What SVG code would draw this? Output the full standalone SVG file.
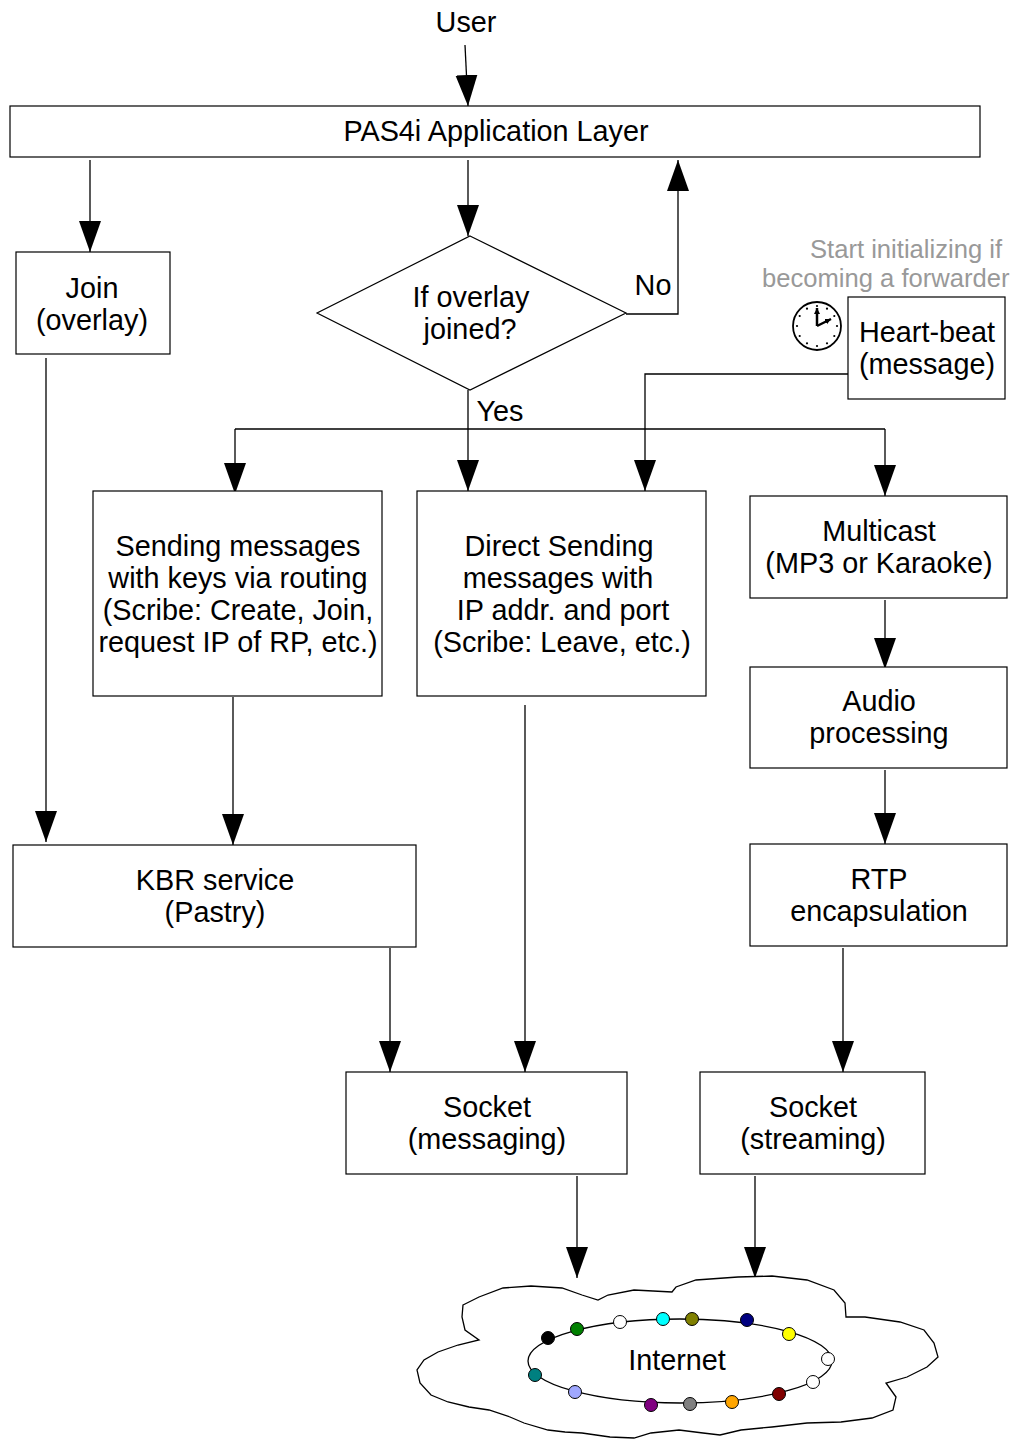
<svg xmlns="http://www.w3.org/2000/svg" width="1016" height="1443" viewBox="0 0 1016 1443">
  <style>
    .box { fill: #fff; stroke: #000; stroke-width: 1.2; }
    .t { font-family: "Liberation Sans", Arial, sans-serif; font-size: 28.8px; fill: #000; text-anchor: middle; }
    .note { font-family: "Liberation Sans", Arial, sans-serif; font-size: 25.6px; fill: #999; }
    .ln { fill: none; stroke: #000; stroke-width: 1.3; }
    .arr { fill: none; stroke: #000; stroke-width: 1.3; marker-end: url(#ah); }
  </style>
  <defs>
    <marker id="ah" markerUnits="userSpaceOnUse" markerWidth="32" markerHeight="24" refX="31" refY="11" orient="auto">
      <path d="M0,0 L31,11 L0,22 Z" fill="#000"/>
    </marker>
    <marker id="hh" markerUnits="userSpaceOnUse" markerWidth="8" markerHeight="8" refX="6" refY="3" orient="auto">
      <path d="M0,0 L6,3 L0,6 Z" fill="#000"/>
    </marker>
  </defs>
  <rect width="1016" height="1443" fill="#fff"/>

  <!-- connectors -->
  <g id="connectors">
    <path class="arr" d="M465,45 L468,106"/>
    <path class="arr" d="M90,160 L90,252"/>
    <path class="arr" d="M468,160 L468,236"/>
    <path class="arr" d="M626,314 L678,314 L678,160"/>
    <path class="arr" d="M46,358 L46,842"/>
    <path class="arr" d="M468,390 L468,491"/>
    <path class="ln" d="M235,429 L885,429"/>
    <path class="arr" d="M235,429 L235,494"/>
    <path class="arr" d="M885,429 L885,496"/>
    <path class="arr" d="M848,374 L645,374 L645,491"/>
    <path class="arr" d="M885,600 L885,669"/>
    <path class="arr" d="M885,770 L885,844"/>
    <path class="arr" d="M233,697 L233,845"/>
    <path class="arr" d="M390,948 L390,1072"/>
    <path class="arr" d="M525,705 L525,1072"/>
    <path class="arr" d="M843,948 L843,1072"/>
    <path class="arr" d="M577,1176 L577,1278"/>
    <path class="arr" d="M755,1176 L755,1278"/>
  </g>

  <!-- labels on connectors -->
  <text class="t" x="466" y="32">User</text>
  <text class="t" x="653" y="295">No</text>
  <text class="t" x="500" y="421">Yes</text>

  <g id="app-layer">
    <rect class="box" x="10" y="106" width="970" height="51"/>
    <text class="t" x="496" y="141">PAS4i Application Layer</text>
  </g>

  <g id="join">
    <rect class="box" x="16" y="252" width="154" height="102"/>
    <text class="t" x="92" y="298">Join</text>
    <text class="t" x="92" y="330">(overlay)</text>
  </g>

  <g id="decision">
    <polygon class="box" points="470,236 626,313 470,390 317,313"/>
    <text class="t" x="471" y="307">If overlay</text>
    <text class="t" x="470" y="339">joined?</text>
  </g>

  <g id="heartbeat">
    <text class="note" x="810" y="258">Start initializing if</text>
    <text class="note" x="762" y="287">becoming a forwarder</text>
    <g id="clock">
      <circle cx="817" cy="326" r="24" fill="#fff" stroke="#000" stroke-width="1.8"/>
      <g fill="#000">
        <circle cx="817" cy="306" r="1.1"/>
        <circle cx="827" cy="308.7" r="1.1"/>
        <circle cx="834.3" cy="316" r="1.1"/>
        <circle cx="837" cy="326" r="1.1"/>
        <circle cx="834.3" cy="336" r="1.1"/>
        <circle cx="827" cy="343.3" r="1.1"/>
        <circle cx="817" cy="346" r="1.1"/>
        <circle cx="807" cy="343.3" r="1.1"/>
        <circle cx="799.7" cy="336" r="1.1"/>
        <circle cx="797" cy="326" r="1.1"/>
        <circle cx="799.7" cy="316" r="1.1"/>
        <circle cx="807" cy="308.7" r="1.1"/>
      </g>
      <path d="M817,326 L817,308" stroke="#000" stroke-width="2.5" marker-end="url(#hh)"/>
      <path d="M817,326 L831,319" stroke="#000" stroke-width="2.5" marker-end="url(#hh)"/>
    </g>
    <rect class="box" x="848" y="297" width="157" height="102"/>
    <text class="t" x="927" y="342">Heart-beat</text>
    <text class="t" x="927" y="374">(message)</text>
  </g>

  <g id="routing">
    <rect class="box" x="93" y="491" width="289" height="205"/>
    <text class="t" x="238" y="556">Sending messages</text>
    <text class="t" x="238" y="588">with keys via routing</text>
    <text class="t" x="238" y="620">(Scribe: Create, Join,</text>
    <text class="t" x="238" y="652">request IP of RP, etc.)</text>
  </g>

  <g id="direct">
    <rect class="box" x="417" y="491" width="289" height="205"/>
    <text class="t" x="559" y="556">Direct Sending</text>
    <text class="t" x="558" y="588">messages with</text>
    <text class="t" x="563" y="620">IP addr. and port</text>
    <text class="t" x="562" y="652">(Scribe: Leave, etc.)</text>
  </g>

  <g id="multicast">
    <rect class="box" x="750" y="496" width="257" height="102"/>
    <text class="t" x="879" y="541">Multicast</text>
    <text class="t" x="879" y="573">(MP3 or Karaoke)</text>
  </g>

  <g id="audio">
    <rect class="box" x="750" y="667" width="257" height="101"/>
    <text class="t" x="879" y="711">Audio</text>
    <text class="t" x="879" y="743">processing</text>
  </g>

  <g id="rtp">
    <rect class="box" x="750" y="844" width="257" height="102"/>
    <text class="t" x="879" y="889">RTP</text>
    <text class="t" x="879" y="921">encapsulation</text>
  </g>

  <g id="kbr">
    <rect class="box" x="13" y="845" width="403" height="102"/>
    <text class="t" x="215" y="890">KBR service</text>
    <text class="t" x="215" y="922">(Pastry)</text>
  </g>

  <g id="socket-messaging">
    <rect class="box" x="346" y="1072" width="281" height="102"/>
    <text class="t" x="487" y="1117">Socket</text>
    <text class="t" x="487" y="1149">(messaging)</text>
  </g>

  <g id="socket-streaming">
    <rect class="box" x="700" y="1072" width="225" height="102"/>
    <text class="t" x="813" y="1117">Socket</text>
    <text class="t" x="813" y="1149">(streaming)</text>
  </g>

  <g id="internet">
    <path fill="#fff" stroke="#000" stroke-width="1.3" d="M463,1305 L479,1297 L503,1288 L531,1286 L562,1288 L582,1295 L598,1300 L608,1295 L634,1290 L672,1292 L676,1287 L696,1280 L738,1277 L772,1276 L807,1280 L834,1290 L845,1303 L846,1317 L865,1317 L900,1322 L924,1330 L934,1343 L938,1357 L927,1367 L907,1377 L886,1383 L896,1397 L893,1410 L872,1418 L841,1422 L807,1423 L772,1427 L741,1430 L720,1435 L703,1433 L679,1430 L651,1433 L634,1438 L610,1437 L582,1433 L565,1432 L548,1430 L524,1423 L510,1417 L489,1410 L469,1407 L448,1402 L431,1395 L420,1383 L417,1370 L424,1360 L438,1352 L458,1345 L479,1340 L465,1330 L462,1317 Z"/>
    <ellipse cx="680" cy="1361" rx="152" ry="42" fill="none" stroke="#000" stroke-width="1.3"/>
    <g stroke="#000" stroke-width="1">
      <circle cx="548" cy="1338" r="6.5" fill="#000"/>
      <circle cx="577" cy="1329" r="6.5" fill="#008000"/>
      <circle cx="620" cy="1322" r="6.5" fill="#fff"/>
      <circle cx="663" cy="1319" r="6.5" fill="#00ffff"/>
      <circle cx="692" cy="1319" r="6.5" fill="#808000"/>
      <circle cx="747" cy="1320" r="6.5" fill="#000080"/>
      <circle cx="789" cy="1334" r="6.5" fill="#ffff00"/>
      <circle cx="828" cy="1359" r="6.5" fill="#fff"/>
      <circle cx="813" cy="1382" r="6.5" fill="#fff"/>
      <circle cx="779" cy="1394" r="6.5" fill="#800000"/>
      <circle cx="732" cy="1402" r="6.5" fill="#ffa500"/>
      <circle cx="690" cy="1404" r="6.5" fill="#808080"/>
      <circle cx="651" cy="1405" r="6.5" fill="#800080"/>
      <circle cx="575" cy="1392" r="6.5" fill="#a0a8ff"/>
      <circle cx="535" cy="1375" r="6.5" fill="#008080"/>
    </g>
    <text class="t" x="677" y="1370">Internet</text>
  </g>
</svg>
